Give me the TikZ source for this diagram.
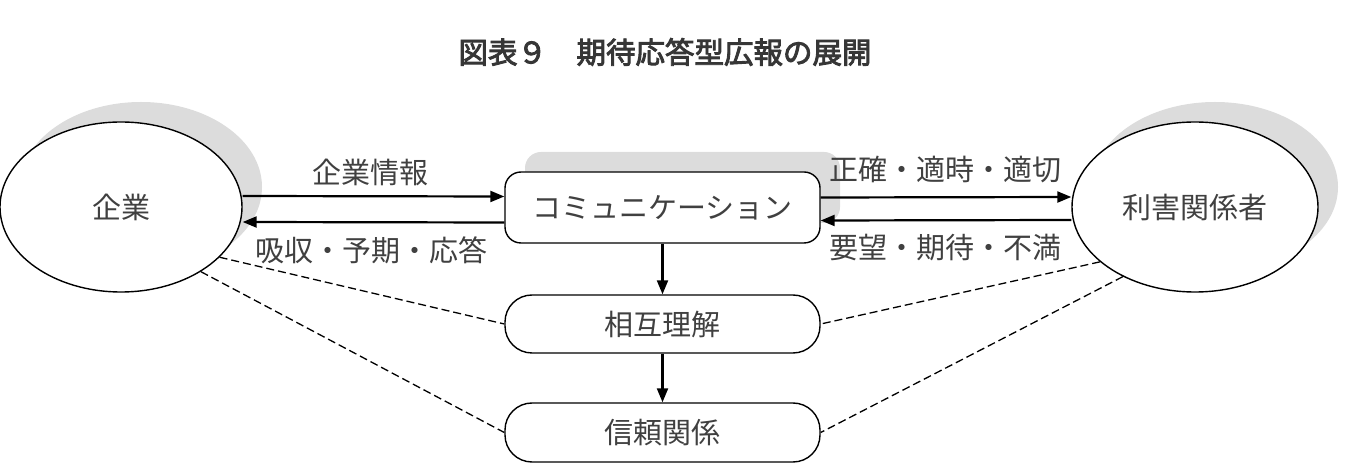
\documentclass[tikz,border=0pt]{standalone}
\usepackage{fontspec}
\setmainfont{Noto Sans CJK JP}
\newfontfamily\titlefont[FakeBold=3]{Noto Sans CJK JP}
\usetikzlibrary{shapes.geometric,arrows.meta,shadows}
\definecolor{txt}{HTML}{404040}
\definecolor{shd}{HTML}{DCDCDC}
\tikzset{
  shad/.style={drop shadow={shadow xshift=20pt,shadow yshift=20pt,fill=shd,opacity=1}},
  ell/.style={ellipse,draw,line width=1.4pt,fill=white,inner sep=0pt,minimum height=170pt,font=\fontsize{29}{32}\selectfont,text=txt},
  rbox/.style={rectangle,draw,line width=1.4pt,fill=white,inner sep=0pt,minimum width=315pt,font=\fontsize{29}{32}\selectfont,text=txt},
  lab/.style={inner sep=0pt,font=\fontsize{29}{32}\selectfont,text=txt},
  arr/.style={line width=2.2pt,-{Triangle[length=14pt,width=11pt]}},
  dsh/.style={line width=1.3pt,dash pattern=on 8pt off 4pt},
}
\begin{document}
\begin{tikzpicture}[x=1pt,y=1pt]
\useasboundingbox (0,0) rectangle (1345,466);
\node[inner sep=0pt,font=\titlefont\fontsize{29.5}{32}\selectfont,text=txt!85!black] (title) at (665,414) {図表９　期待応答型広報の展開};
\node[ell,shad,minimum width=242pt] (ent) at (121,259) {企業};
\node[ell,shad,minimum width=246pt] (stk) at (1195,259) {利害関係者};
\node[rbox,shad,rounded corners=16pt,minimum height=71pt] (comm) at (662.5,258.5) {コミュニケーション};
\node[rbox,rounded corners=27pt,minimum height=58pt] (mu) at (662.5,142) {相互理解};
\node[rbox,rounded corners=27pt,minimum height=59pt] (tr) at (662.5,33.5) {信頼関係};
\node[lab] (l1) at (370,294) {企業情報};
\node[lab] (l2) at (371,216) {吸収・予期・応答};
\node[lab] (l3) at (945,296) {正確・適時・適切};
\node[lab] (l4) at (945,218) {要望・期待・不満};
\draw[arr] ([yshift=11pt]ent.east) -- ([yshift=11pt]comm.west);
\draw[arr] ([yshift=-15pt]comm.west) -- ([yshift=-15pt]ent.east);
\draw[arr] ([yshift=10pt]comm.east) -- ([yshift=10pt]stk.west);
\draw[arr] ([yshift=-13pt]stk.west) -- ([yshift=-13pt]comm.east);
\draw[arr] (comm) -- (mu);
\draw[arr] (mu) -- (tr);
\draw[dsh] (ent.-27) -- (mu.west);
\draw[dsh] (ent.-39) -- (tr.west);
\draw[dsh] (stk.-150) -- (mu.east);
\draw[dsh] (stk.-136) -- (tr.east);
\end{tikzpicture}
\end{document}
